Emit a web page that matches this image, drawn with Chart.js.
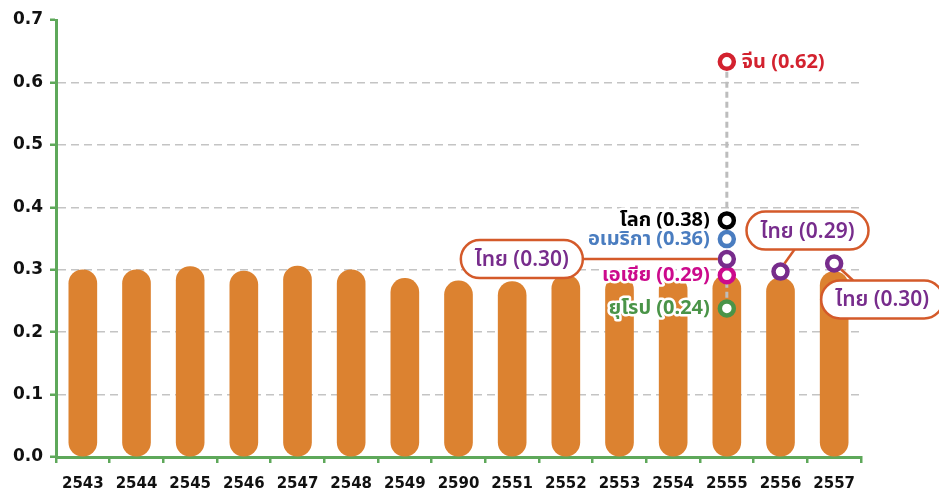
<!DOCTYPE html>
<html>
<head>
<meta charset="utf-8">
<script src="https://cdn.jsdelivr.net/npm/chart.js@4/dist/chart.umd.min.js"></script>
<style>
  html, body { margin: 0; padding: 0; background: #fff; }
  #wrap { width: 939px; height: 489px; }
</style>
</head>
<body>
<div id="wrap"><canvas id="chart"></canvas></div>
<script>
// categories (as printed on the axis)
var years = ['2543','2544','2545','2546','2547','2548','2549','2590','2551','2552','2553','2554','2555','2556','2557'];
// orange bars
var bar_values = [0.30, 0.30, 0.305, 0.298, 0.306, 0.30, 0.286, 0.282, 0.281, 0.292, 0.29, 0.29, 0.292, 0.287, 0.297];
// thai markers
var thai_years = ['2555','2556','2557'];
var thai_values = [0.317, 0.297, 0.310];
var thai_labels = ['ไทย (0.30)', 'ไทย (0.29)', 'ไทย (0.30)'];
// other regions in 2555
var region_names = ['จีน', 'โลก', 'อเมริกา', 'เอเชีย', 'ยุโรป'];
var region_values = [0.633, 0.379, 0.349, 0.291, 0.238];
var region_labels = ['จีน (0.62)', 'โลก (0.38)', 'อเมริกา (0.36)', 'เอเชีย (0.29)', 'ยุโรป (0.24)'];
var region_colors = ['#d3222f', '#000000', '#4a7dc0', '#cc0a8c', '#4a9448'];
var y_ticks = [0, 0.1, 0.2, 0.3, 0.4, 0.5, 0.6, 0.7];

var green = '#5ea85a';
var purple = '#772c8c';
var calloutColor = '#d45a2a';
var FONT = "'Noto Sans', 'Noto Sans Thai', 'DejaVu Sans', sans-serif";
var TICKFONT = "'DejaVu Sans', sans-serif";

var datasets = [];
// markers for regions
for (var i = 0; i < region_names.length; i++) {
  datasets.push({
    type: 'line',
    label: region_names[i],
    data: [{x: '2555', y: region_values[i]}],
    showLine: false,
    pointRadius: 7,
    pointHoverRadius: 7,
    pointBorderWidth: 4.5,
    pointBackgroundColor: '#fff',
    pointBorderColor: region_colors[i],
    order: 1
  });
}
datasets.push({
  type: 'line',
  label: 'ไทย',
  data: thai_years.map(function(y, k){ return {x: y, y: thai_values[k]}; }),
  showLine: false,
  pointRadius: 7,
  pointBorderWidth: 4.5,
  pointBackgroundColor: '#fff',
  pointBorderColor: purple,
  order: 0
});
// dashed range line in 2555 from top to bottom region
datasets.push({
  type: 'line',
  label: 'range',
  data: [{x: '2555', y: Math.max.apply(null, region_values)}, {x: '2555', y: Math.min.apply(null, region_values)}],
  borderColor: '#bdbdbd',
  borderWidth: 3,
  borderDash: [6, 4],
  pointRadius: 0,
  order: 2
});
datasets.push({
  type: 'bar',
  label: 'bars',
  data: bar_values,
  backgroundColor: '#dc8230',
  barThickness: 28,
  borderRadius: 14,
  borderSkipped: false,
  order: 3
});

function pillPath(ctx, x, y, w, h) {
  var r = h / 2;
  ctx.beginPath();
  ctx.moveTo(x + r, y);
  ctx.lineTo(x + w - r, y);
  ctx.arc(x + w - r, y + r, r, -Math.PI / 2, Math.PI / 2);
  ctx.lineTo(x + r, y + h);
  ctx.arc(x + r, y + r, r, Math.PI / 2, Math.PI * 1.5);
  ctx.closePath();
}

function haloText(ctx, text, x, y, color) {
  ctx.lineJoin = 'round';
  ctx.lineWidth = 5;
  ctx.strokeStyle = '#fff';
  ctx.strokeText(text, x, y);
  ctx.fillStyle = color;
  ctx.fillText(text, x, y);
}

var labelPlugin = {
  id: 'labels',
  afterDatasetsDraw: function(chart) {
    var ctx = chart.ctx;
    var xs = chart.scales.x, ys = chart.scales.y;
    ctx.save();
    ctx.textBaseline = 'middle';
    ctx.font = 'bold 20px ' + FONT;
    // region labels
    for (var i = 0; i < region_names.length; i++) {
      var px = xs.getPixelForValue(years.indexOf('2555'));
      var py = ys.getPixelForValue(region_values[i]);
      if (i === 0) {
        ctx.textAlign = 'left';
        haloText(ctx, region_labels[i], px + 15, py, region_colors[i]);
      } else {
        ctx.textAlign = 'right';
        haloText(ctx, region_labels[i], px - 17, py, region_colors[i]);
      }
    }
    // thai callouts: box offset from marker
    var offsets = [[-205, 0], [27, -41], [48, 36]];
    var bw = 122, bh = 38;
    ctx.font = '600 21px ' + FONT;
    ctx.textAlign = 'center';
    for (var k = 0; k < thai_years.length; k++) {
      var mx = xs.getPixelForValue(years.indexOf(thai_years[k]));
      var my = ys.getPixelForValue(thai_values[k]);
      var cx = mx + offsets[k][0], cy = my + offsets[k][1];
      ctx.strokeStyle = calloutColor;
      ctx.lineWidth = 2.5;
      ctx.beginPath();
      if (k === 0) {
        ctx.moveTo(cx + bw / 2, cy);
        ctx.lineTo(mx - 9, my);
      } else if (k === 1) {
        ctx.moveTo(cx - 13, cy + bh / 2);
        ctx.lineTo(mx + 4, my - 8);
      } else {
        ctx.moveTo(mx + 7, my + 6);
        ctx.lineTo(cx - 29, cy - bh / 2);
      }
      ctx.stroke();
      pillPath(ctx, cx - bw / 2, cy - bh / 2, bw, bh);
      ctx.fillStyle = '#fff';
      ctx.fill();
      ctx.stroke();
      ctx.fillStyle = purple;
      ctx.fillText(thai_labels[k], cx, cy + 1);
    }
    ctx.restore();
  }
};

var ctx = document.getElementById('chart');
new Chart(ctx, {
  data: { labels: years, datasets: datasets },
  options: {
    responsive: true,
    maintainAspectRatio: false,
    animation: false,
    events: [],
    layout: { padding: { top: 20, right: 78, left: 0, bottom: 0 } },
    plugins: { legend: { display: false }, tooltip: { enabled: false } },
    scales: {
      x: {
        type: 'category',
        offset: true,
        afterFit: function(s) { s.height = 32; },
        grid: { display: true, drawOnChartArea: false, offset: true, color: green, lineWidth: 2.5, tickLength: 6 },
        border: { color: green, width: 3 },
        ticks: { color: '#111', font: { family: TICKFONT, size: 15, weight: 'bold' }, padding: 12, maxRotation: 0, autoSkip: false }
      },
      y: {
        min: 0,
        max: 0.7,
        afterFit: function(s) { s.width = 56; },
        afterBuildTicks: function(s) { s.ticks = y_ticks.map(function(v){ return {value: v}; }); },
        grid: {
          color: function(c) { return (c.tick && (c.tick.value === 0 || c.tick.value >= 0.7)) ? 'rgba(0,0,0,0)' : '#c4c4c4'; },
          tickColor: green,
          lineWidth: 1.5,
          tickWidth: 2.5,
          tickLength: 6
        },
        border: { color: green, width: 3, dash: [8, 5] },
        ticks: {
          color: '#111',
          padding: 7,
          font: { family: TICKFONT, size: 17, weight: 'bold' },
          callback: function(v) { return v.toFixed(1); }
        }
      }
    }
  },
  plugins: [labelPlugin]
});
</script>
</body>
</html>
